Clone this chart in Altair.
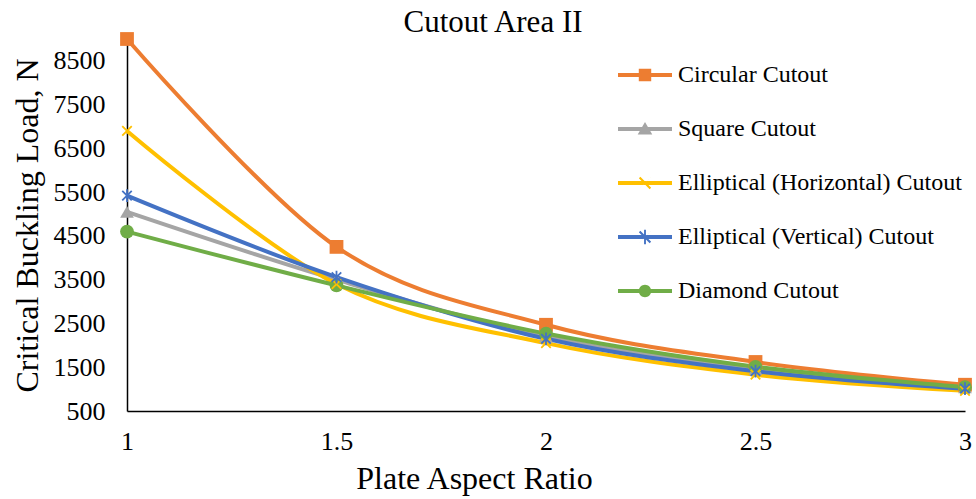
import altair as alt
import pandas as pd

# ---- data ----
ratios = [1, 1.5, 2, 2.5, 3]
series_names = [
    "Circular Cutout",
    "Square Cutout",
    "Elliptical (Horizontal) Cutout",
    "Elliptical (Vertical) Cutout",
    "Diamond Cutout",
]
marker_codes = ["square", "triangle", "x", "asterisk", "circle"]
circular = [9000, 4250, 2470, 1620, 1100]
square = [5050, 3500, 2200, 1460, 1040]
ell_horizontal = [6900, 3400, 2050, 1330, 960]
ell_vertical = [5420, 3560, 2150, 1410, 1010]
diamond = [4600, 3370, 2270, 1510, 1045]

x_ticks = [1, 1.5, 2, 2.5, 3]
y_ticks = [500, 1500, 2500, 3500, 4500, 5500, 6500, 7500, 8500]

colors = ["#ED7D31", "#A5A5A5", "#FFC000", "#4472C4", "#70AD47"]
FONT = "Liberation Serif"

all_values = [circular, square, ell_horizontal, ell_vertical, diamond]
rows = []
for name, code, vals in zip(series_names, marker_codes, all_values):
    for r, v in zip(ratios, vals):
        rows.append({"ratio": r, "load": v, "series": name, "marker": code})
df = pd.DataFrame(rows)

# marker shapes inside the plot
marker_shapes = [
    "square",
    "triangle-up",
    "M-1,-1L1,1M-1,1L1,-1",
    "M-1,-1L1,1M-1,1L1,-1M0,-1.35L0,1.35",
    "circle",
]


# legend symbols (filled paths): line segment + marker
def bar(x1, y1, x2, y2, d):
    if x1 == x2:
        return f"M{x1-d:.3f},{y1:.3f}L{x1+d:.3f},{y1:.3f}L{x2+d:.3f},{y2:.3f}L{x2-d:.3f},{y2:.3f}Z"
    return (f"M{x1+d:.3f},{y1-d:.3f}L{x2+d:.3f},{y2-d:.3f}"
            f"L{x2-d:.3f},{y2+d:.3f}L{x1-d:.3f},{y1+d:.3f}Z")


seg = "M-1,-0.075H1V0.075H-1Z"
xmark = bar(-0.2, -0.2, 0.2, 0.2, 0.028) + bar(-0.2, 0.2, 0.2, -0.2, 0.028)
legend_paths = [
    seg + "M-0.23,-0.23H0.23V0.23H-0.23Z",
    seg + "M0,-0.26L0.27,0.2H-0.27Z",
    seg + xmark,
    seg + xmark + bar(0, -0.27, 0, 0.27, 0.035),
    seg + "M-0.23,0A0.23,0.23 0 1,1 0.23,0A0.23,0.23 0 1,1 -0.23,0Z",
]
expr = "'" + legend_paths[-1] + "'"
for name, p in reversed(list(zip(series_names[:-1], legend_paths[:-1]))):
    expr = f"datum.value === '{name}' ? '{p}' : ({expr})"

color_scale = alt.Scale(domain=series_names, range=colors)
shape_scale = alt.Scale(domain=marker_codes, range=marker_shapes)

x_enc = alt.X(
    "ratio:Q",
    scale=alt.Scale(domain=[1, 3], nice=False, zero=False),
    axis=alt.Axis(
        values=x_ticks,
        format="~g",
        title="Plate Aspect Ratio",
        grid=False,
        ticks=False,
        domainColor="black",
        domainWidth=1.5,
        labelFont=FONT,
        labelFontSize=26,
        labelColor="black",
        labelPadding=17,
        labelFlush=False,
        titleFont=FONT,
        titleFontSize=32,
        titleFontWeight="normal",
        titleColor="black",
        titleX=347,
        titleY=77,
        titleBaseline="alphabetic",
        titleAnchor="start",
        titleAlign="center",
    ),
)
y_enc = alt.Y(
    "load:Q",
    scale=alt.Scale(domain=[500, 9000], nice=False, zero=False),
    axis=alt.Axis(
        values=y_ticks,
        format="d",
        title="Critical Buckling Load, N",
        grid=False,
        ticks=False,
        domainColor="black",
        domainWidth=1.5,
        labelFont=FONT,
        labelFontSize=26,
        labelColor="black",
        labelPadding=22,
        labelFlush=False,
        titleFont=FONT,
        titleFontSize=32,
        titleFontWeight="normal",
        titleColor="black",
        titleAngle=-90,
        titleX=-90,
        titleY=186,
        titleBaseline="alphabetic",
        titleAlign="center",
        titleAnchor="start",
    ),
)

legend = alt.Legend(
    title=None,
    orient="none",
    legendX=491,
    legendY=9,
    symbolSize=2916,
    symbolType={"expr": expr},
    symbolStrokeWidth=0,
    symbolOpacity=1,
    labelFont=FONT,
    labelFontSize=24,
    labelColor="black",
    labelOffset=6,
    rowPadding=15,
    labelLimit=400,
)

color_enc = alt.Color("series:N", scale=color_scale, legend=legend)

base = alt.Chart(df)

# invisible layer whose filled symbols define the legend look
legend_owner = base.mark_point(filled=True, opacity=1, size=0).encode(
    x=x_enc,
    y=y_enc,
    color=color_enc,
)

lines = base.mark_line(interpolate="cardinal", strokeWidth=4).encode(
    x="ratio:Q",
    y="load:Q",
    color=color_enc,
    detail="series:N",
)

filled_names = [series_names[0], series_names[1], series_names[4]]
stroked_names = [series_names[2], series_names[3]]

filled_pts = base.transform_filter(
    alt.FieldOneOfPredicate(field="series", oneOf=filled_names)
).mark_point(filled=True, opacity=1, size=190).encode(
    x="ratio:Q",
    y="load:Q",
    color=color_enc,
    shape=alt.Shape("marker:N", scale=shape_scale, legend=None),
)

stroked_pts = base.transform_filter(
    alt.FieldOneOfPredicate(field="series", oneOf=stroked_names)
).mark_point(filled=False, opacity=1, size=90, strokeWidth=1.8).encode(
    x="ratio:Q",
    y="load:Q",
    color=color_enc,
    shape=alt.Shape("marker:N", scale=shape_scale, legend=None),
)

chart = (
    alt.layer(legend_owner, lines, filled_pts, stroked_pts)
    .properties(
        width=838,
        height=372,
        autosize=alt.AutoSizeParams(type="none"),
        padding={"left": 127, "top": 39, "right": 11, "bottom": 88},
        background="white",
        title=alt.TitleParams(
            text="Cutout Area II",
            font=FONT,
            fontSize=31,
            fontWeight="normal",
            color="black",
            anchor="middle",
            frame="group",
            baseline="alphabetic",
            offset=6,
            dx=-53,
            dy=38,
        ),
    )
    .configure_view(stroke=None)
)

chart.save("out.html", embed_options={"renderer": "svg", "actions": False})
